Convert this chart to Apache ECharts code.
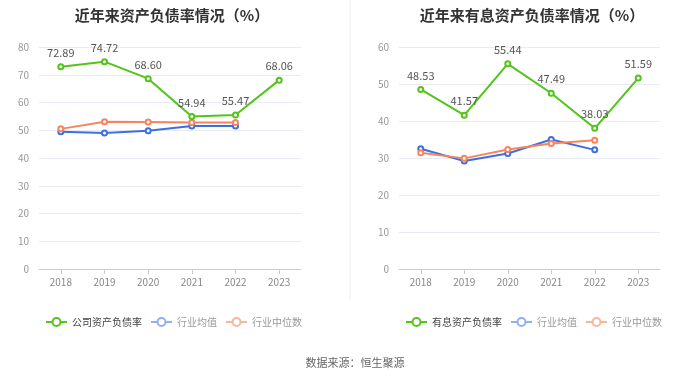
<!DOCTYPE html>
<html><head><meta charset="utf-8">
<script src="https://cdn.jsdelivr.net/npm/echarts@6/dist/echarts.min.js"></script>
<style>html,body{margin:0;padding:0;background:#fff}#c{width:700px;height:378px}</style>
</head><body><div id="c"></div>
<script>
const years = ['2018','2019','2020','2021','2022','2023'];
const companyDebt = [72.89, 74.72, 68.60, 54.94, 55.47, 68.06];
const industryAvgDebt = [49.5, 49.0, 49.8, 51.5, 51.5, null];
const industryMedDebt = [50.5, 53.1, 53.0, 52.8, 52.8, null];
const interestDebt = [48.53, 41.57, 55.44, 47.49, 38.03, 51.59];
const industryAvgInt = [32.5, 29.2, 31.2, 35.0, 32.2, null];
const industryMedInt = [31.4, 29.9, 32.3, 33.9, 34.8, null];
const leftTicks = {min:0, max:80, interval:10};
const rightTicks = {min:0, max:60, interval:10};

const GREEN = '#52c41a', BLUE = '#3d6fe0', ORANGE = '#f7845e';
const font = '"Noto Sans CJK SC", sans-serif';
const chart = echarts.init(document.getElementById('c'));

function mkSeries(name, data, color, xi, label){
  return {
    name, type:'line', data, xAxisIndex:xi, yAxisIndex:xi,
    symbol:'emptyCircle', symbolSize:5, connectNulls:false,
    lineStyle:{color, width:2}, itemStyle:{color, borderWidth:1.5},
    label: label ? {show:true, position:'top', color:'#555', fontSize:11, fontFamily:font, formatter:p=>p.value.toFixed(2)} : {show:false},
    z: label ? 3 : 2
  };
}
function legendData(first){
  return [
    {name:first, itemStyle:{color:GREEN}, lineStyle:{color:GREEN}, textStyle:{color:'#444'}},
    {name:'行业均值', itemStyle:{color:'#8fb0f2'}, lineStyle:{color:'#8fb0f2'}, textStyle:{color:'#999'}},
    {name:'行业中位数', itemStyle:{color:'#f9b69d'}, lineStyle:{color:'#f9b69d'}, textStyle:{color:'#999'}}
  ];
}
const axisX = (gi)=>({type:'category', gridIndex:gi, data:years, boundaryGap:true,
  axisLine:{lineStyle:{color:'#ccc'}}, axisTick:{show:true, alignWithLabel:true, lineStyle:{color:'#ccc'}},
  axisLabel:{color:'#888', fontSize:10, fontFamily:font, margin:8}});
const axisY = (gi,t)=>({type:'value', gridIndex:gi, min:t.min, max:t.max, interval:t.interval,
  axisLine:{show:false}, axisTick:{show:false},
  axisLabel:{color:'#999', fontSize:10, fontFamily:font, margin:10},
  splitLine:{lineStyle:{color:'#e8ecf2'}}});
const legendBase = {top:312, width:300, itemWidth:21, itemHeight:10, itemGap:8, orient:'horizontal',
  textStyle:{fontSize:10, fontFamily:font}};

chart.setOption({
  animation:false,
  title:[
    {text:'近年来资产负债率情况（%）', left:167, top:3, textAlign:'center', textStyle:{fontSize:15, fontWeight:'bold', color:'#333', fontFamily:font}},
    {text:'近年来有息资产负债率情况（%）', left:527, top:3, textAlign:'center', textStyle:{fontSize:15, fontWeight:'bold', color:'#333', fontFamily:font}},
    {text:'数据来源：恒生聚源', left:350, top:352, textAlign:'center', textStyle:{fontSize:11, fontWeight:'normal', color:'#666', fontFamily:font}}
  ],
  legend:[
    Object.assign({left:40, data:legendData('公司资产负债率')}, legendBase),
    Object.assign({left:400, data:legendData('有息资产负债率')}, legendBase)
  ],
  grid:[
    {left:39, top:47, width:262, height:222},
    {left:399, top:47, width:261, height:222}
  ],
  xAxis:[axisX(0), axisX(1)],
  yAxis:[axisY(0,leftTicks), axisY(1,rightTicks)],
  series:[
    mkSeries('公司资产负债率', companyDebt, GREEN, 0, true),
    mkSeries('行业均值', industryAvgDebt, BLUE, 0, false),
    mkSeries('行业中位数', industryMedDebt, ORANGE, 0, false),
    mkSeries('有息资产负债率', interestDebt, GREEN, 1, true),
    mkSeries('行业均值', industryAvgInt, BLUE, 1, false),
    mkSeries('行业中位数', industryMedInt, ORANGE, 1, false)
  ],
  graphic:[{type:'line', shape:{x1:350, y1:0, x2:350, y2:300}, style:{stroke:'#eee', lineWidth:1}}]
});
</script></body></html>
